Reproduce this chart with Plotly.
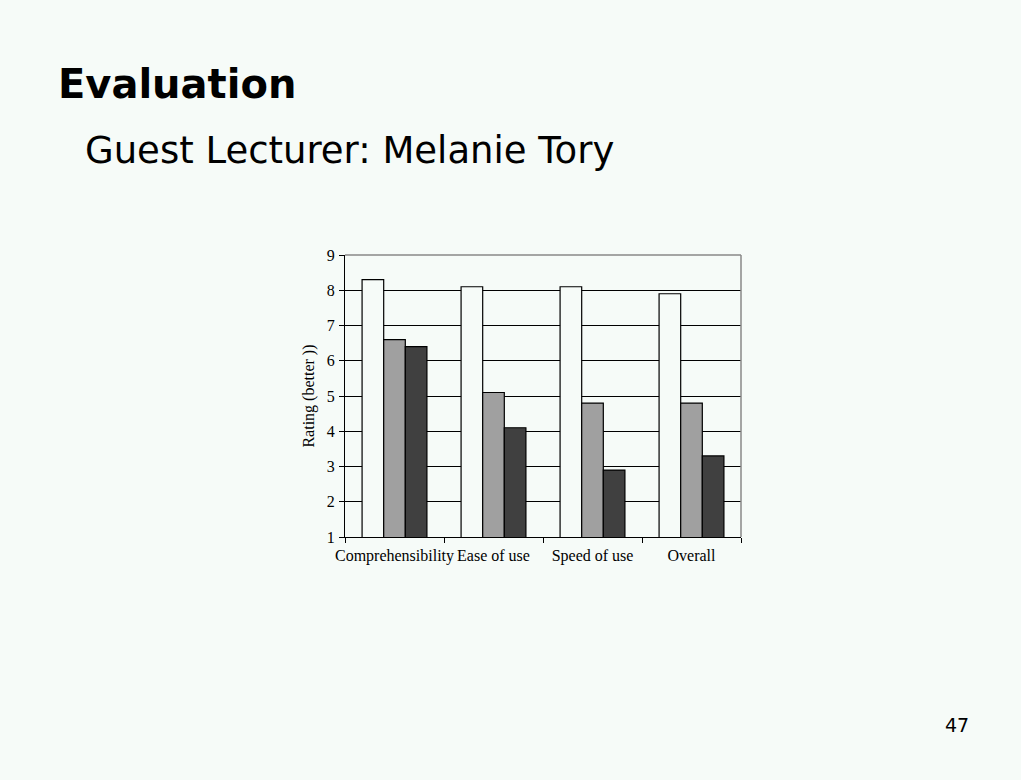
import plotly.graph_objects as go

categories = ["Comprehensibility", "Ease of use", "Speed of use", "Overall"]
series_a = [8.3, 8.1, 8.1, 7.9]
series_b = [6.6, 5.1, 4.8, 4.8]
series_c = [6.4, 4.1, 2.9, 3.3]
y_ticks = [1, 2, 3, 4, 5, 6, 7, 8, 9]

BG = "#F6FBF8"
fills = ["#F6FBF8", "#A0A0A0", "#404040"]

fig = go.Figure()
for vals, col in zip([series_a, series_b, series_c], fills):
    fig.add_trace(go.Bar(x=categories, y=vals, marker=dict(color=col, line=dict(color="black", width=1.2)),
                         showlegend=False))

W, H = 1021, 780
L, R, T, B = 345, 741, 255, 537

def px(x):
    return (x - L) / (R - L)

def py(y):
    return (B - y) / (B - T)

fig.update_layout(
    width=W, height=H,
    margin=dict(l=L, r=W - R, t=T, b=H - B, pad=0),
    paper_bgcolor=BG, plot_bgcolor=BG,
    barmode="group", bargap=0.345, bargroupgap=0,
    font=dict(family="Liberation Serif", size=16, color="black"),
    xaxis=dict(type="category", showline=True, linecolor="black", linewidth=1.2,
               ticks="outside", tickson="boundaries", ticklen=5, tickcolor="black",
               showgrid=False, tickangle=0, ticklabelstandoff=4,
               tickfont=dict(family="Liberation Serif", size=16)),
    yaxis=dict(range=[1, 9], tickvals=y_ticks, showline=True, linecolor="black", linewidth=1.2,
               ticks="outside", ticklen=5, tickcolor="black", showgrid=True, gridcolor="black",
               gridwidth=1.2, zeroline=False, ticklabelstandoff=1,
               tickfont=dict(family="Liberation Serif", size=16),
               title=dict(text="Rating (better ))", font=dict(family="Liberation Serif", size=16), standoff=8)),
    shapes=[
        dict(type="line", xref="paper", yref="paper", x0=0, x1=1, y0=1, y1=1,
             line=dict(color="#888888", width=1.5), layer="above"),
        dict(type="line", xref="paper", yref="paper", x0=1, x1=1, y0=0, y1=1,
             line=dict(color="#888888", width=1.5), layer="above"),
    ],
    annotations=[
        dict(text="<b>Evaluation</b>", xref="paper", yref="paper", x=px(56), y=py(84),
             xanchor="left", yanchor="middle", showarrow=False,
             font=dict(family="DejaVu Sans", size=40, color="black")),
        dict(text="Guest Lecturer: Melanie Tory", xref="paper", yref="paper", x=px(83), y=py(151),
             xanchor="left", yanchor="middle", showarrow=False,
             font=dict(family="DejaVu Sans", size=37, color="black")),
        dict(text="47", xref="paper", yref="paper", x=px(957), y=py(725),
             xanchor="center", yanchor="middle", showarrow=False,
             font=dict(family="DejaVu Sans", size=19, color="black")),
    ],
)

fig.write_html("out.html", config={"displayModeBar": False},
               post_script="document.body.style.margin='0';document.body.style.background='%s';" % BG)
